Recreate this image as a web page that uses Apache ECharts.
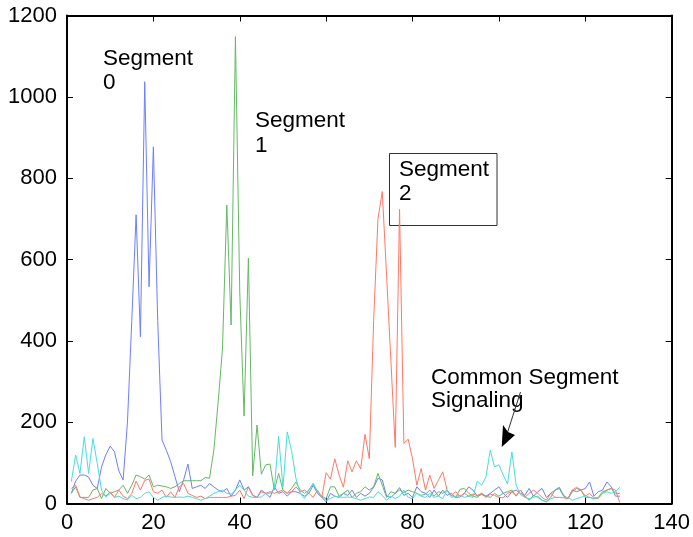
<!DOCTYPE html>
<html>
<head>
<meta charset="utf-8">
<script src="https://cdn.jsdelivr.net/npm/echarts@6/dist/echarts.min.js"></script>
<style>
html,body{margin:0;padding:0;background:#fff;}
#c{width:693px;height:537px;}
</style>
</head>
<body>
<div id="c"></div>
<script>
// ---- data (index 1..128) ----
var segment0 = [25,55,70,70,65,45,37,90,120,141,127,80,58,
  200,450,710,410,1037,533,877,450,156,
  131,103,66,29,58,97,37,41,45,37,49,41,33,
  29,37,18,33,58,33,41,20,15,33,25,15,41,25,29,18,29,29,25,18,25,45,25,15,4,25,18,15,25,20,33,15,25,18,25,
  40,62,58,18,15,25,39,20,25,15,41,29,25,15,33,18,33,20,25,15,16,25,41,33,18,22,18,25,33,41,25,15,29,33,25,
  20,37,18,29,37,15,25,33,37,18,12,33,29,33,37,53,18,29,33,53,41,18,18];
var segment1 = [25,41,15,15,15,33,37,12,37,25,29,33,45,25,45,70,66,60,70,41,45,43,41,37,41,49,56,56,56,56,56,64,62,
  131,250,380,734,439,1148,520,215,603,68,193,72,95,97,33,
  74,33,25,37,53,33,25,33,49,29,18,12,41,41,18,25,33,15,25,29,41,33,
  41,74,45,15,29,25,33,27,33,29,25,20,23,33,18,29,25,33,20,15,35,37,25,18,15,25,18,15,25,18,25,29,33,18,33,
  18,8,20,15,8,4,15,33,40,20,12,29,37,33,15,15,12,15,29,33,37,25,25];
var segment2 = [37,45,16,12,8,12,15,25,18,29,15,33,18,12,25,55,33,57,60,29,25,33,15,29,15,41,49,25,20,15,18,12,15,15,15,
  15,15,18,20,33,12,41,20,15,29,25,29,25,29,33,25,29,41,29,33,25,15,33,15,
  76,60,110,70,40,105,78,105,85,170,110,450,700,767,560,350,138,723,148,158,110,45,86,33,70,37,57,78,33,
  20,29,18,25,18,23,20,25,15,23,20,15,14,25,29,20,33,
  15,25,33,25,15,8,25,15,15,14,12,33,40,33,18,25,14,12,25,33,37,33,2];
var common = [54,119,74,164,74,160,99,33,16,25,15,18,12,9,20,12,15,25,29,15,8,15,18,16,15,16,15,18,15,12,8,12,18,25,29,
  33,25,23,33,45,33,18,15,15,16,25,25,35,165,40,176,130,62,25,12,33,49,29,16,8,12,18,16,15,16,15,12,8,12,16,
  15,29,20,8,18,12,18,33,15,12,25,18,15,25,15,18,12,33,15,18,20,15,18,15,
  55,45,65,131,90,95,70,48,127,45,22,
  15,12,15,18,8,4,12,15,15,15,15,8,12,15,20,15,12,15,25,29,25,29,40];
var xTicks = [0,20,40,60,80,100,120,140];
var yTicks = [0,200,400,600,800,1000,1200];

function pairs(arr){ return arr.map(function(v,i){ return [i+1, v]; }); }

var chart = echarts.init(document.getElementById('c'), null, {renderer:'canvas'});
var labelFont = "'Liberation Sans Narrow','Arial Narrow','Liberation Sans',Arial,sans-serif";
var txtFont = "'Liberation Sans',Arial,Helvetica,sans-serif";

function axisBase(extra){
  var o = {
    type:'value',
    axisLine:{show:true,onZero:false,lineStyle:{color:'#000',width:2}},
    axisTick:{show:true,inside:true,length:6,lineStyle:{color:'#000',width:1}},
    splitLine:{show:false}
  };
  for (var k in extra) o[k]=extra[k];
  return o;
}
function plain(v){ return String(v); }

var option = {
  animation:false,
  backgroundColor:'#fff',
  grid:{left:67,right:19,top:15.5,bottom:33.5,containLabel:false},
  xAxis:[
    axisBase({position:'bottom',min:xTicks[0],max:xTicks[xTicks.length-1],interval:20,
      axisLabel:{show:true,color:'#000',fontSize:22,fontFamily:labelFont,margin:8,formatter:plain}}),
    axisBase({position:'top',min:xTicks[0],max:xTicks[xTicks.length-1],interval:20,axisLabel:{show:false}})
  ],
  yAxis:[
    axisBase({position:'left',min:yTicks[0],max:yTicks[yTicks.length-1],interval:200,
      axisLabel:{show:true,color:'#000',fontSize:22,fontFamily:labelFont,margin:10,formatter:plain}}),
    axisBase({position:'right',min:yTicks[0],max:yTicks[yTicks.length-1],interval:200,axisLabel:{show:false}})
  ],
  series:[
    {name:'Segment 0',type:'line',data:pairs(segment0),symbol:'none',lineStyle:{color:'#6e7eff',width:1},z:2},
    {name:'Segment 1',type:'line',data:pairs(segment1),symbol:'none',lineStyle:{color:'#66b866',width:1},z:2},
    {name:'Segment 2',type:'line',data:pairs(segment2),symbol:'none',lineStyle:{color:'#ff7868',width:1},z:2},
    {name:'Common',type:'line',data:pairs(common),symbol:'none',lineStyle:{color:'#48dcdc',width:1},z:2}
  ],
  graphic:[
    {type:'text',style:{text:'Segment',x:103,y:58.5,font:'22.5px '+txtFont,fill:'#000',textVerticalAlign:'middle'}},
    {type:'text',style:{text:'0',x:103,y:83,font:'22.5px '+txtFont,fill:'#000',textVerticalAlign:'middle'}},
    {type:'text',style:{text:'Segment',x:255,y:121,font:'22.5px '+txtFont,fill:'#000',textVerticalAlign:'middle'}},
    {type:'text',style:{text:'1',x:255,y:145.5,font:'22.5px '+txtFont,fill:'#000',textVerticalAlign:'middle'}},
    {type:'rect',shape:{x:389.5,y:153.5,width:107.5,height:72},style:{fill:null,stroke:'#333',lineWidth:1}},
    {type:'text',style:{text:'Segment',x:399,y:169.5,font:'22.5px '+txtFont,fill:'#000',textVerticalAlign:'middle'}},
    {type:'text',style:{text:'2',x:399,y:194,font:'22.5px '+txtFont,fill:'#000',textVerticalAlign:'middle'}},
    {type:'text',style:{text:'Common Segment',x:431,y:377.5,font:'22.5px '+txtFont,fill:'#000',textVerticalAlign:'middle'}},
    {type:'text',style:{text:'Signaling',x:431,y:400.5,font:'22.5px '+txtFont,fill:'#000',textVerticalAlign:'middle'}},
    {type:'line',shape:{x1:520.5,y1:392,x2:507,y2:434},style:{stroke:'#333',lineWidth:1}},
    {type:'polygon',shape:{points:[[501.7,447],[503,425],[508,432],[515,435]]},style:{fill:'#000'}}
  ]
};
chart.setOption(option);
</script>
</body>
</html>
